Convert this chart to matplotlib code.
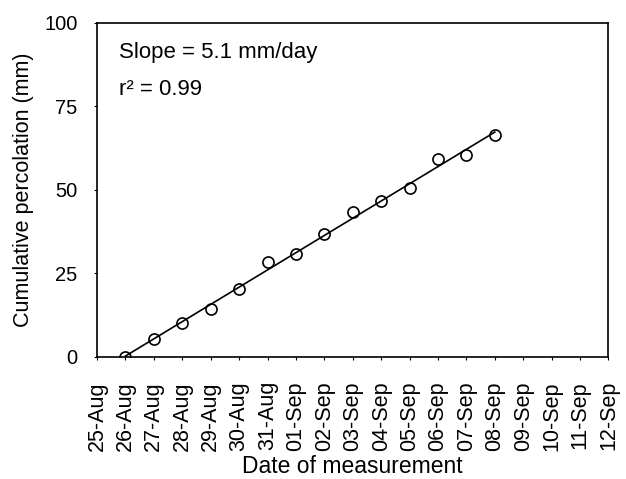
import matplotlib
matplotlib.use("Agg")
import matplotlib.pyplot as plt
import matplotlib.dates as mdates
import numpy as np
from datetime import datetime

plt.rcParams['font.family'] = ['Liberation Sans', 'DejaVu Sans']

# measurements (cumulative percolation, mm)
dates = ["26-Aug", "27-Aug", "28-Aug", "29-Aug", "30-Aug", "31-Aug", "01-Sep",
         "02-Sep", "03-Sep", "04-Sep", "05-Sep", "06-Sep", "07-Sep", "08-Sep"]
perc = [0.0, 5.3, 10.2, 14.2, 20.2, 28.4, 30.7, 36.7, 43.3, 46.6, 50.5, 59.2, 60.4, 66.4]

axis_start = "25-Aug"
axis_end = "12-Sep"
long_ticks = ["31-Aug", "09-Sep"]
yticks = [0, 25, 50, 75, 100]

slope_text = "Slope = 5.1 mm/day"
r2_text = "r\u00b2 = 0.99"


def to_num(s):
    return mdates.date2num(datetime.strptime(s + "-2005", "%d-%b-%Y"))


x = np.array([to_num(d) for d in dates])
y = np.array(perc)

fig = plt.figure(figsize=(6.26, 4.79), dpi=100)
ax = fig.add_axes([0.155, 0.2553, 0.817, 0.6973])

# regression line
k, b = np.polyfit(x - x[0], y, 1)
ax.plot([x[0], x[-1]], [b, k * (x[-1] - x[0]) + b], color='k', lw=1.2, zorder=2)
ax.plot(x, y, 'o', mfc='none', mec='k', mew=1.2, ms=8, zorder=3)

ax.set_xlim(to_num(axis_start), to_num(axis_end))
ax.set_ylim(0, 100)

# every day labelled, short ticks; two longer unlabelled ticks
ax.xaxis.set_major_locator(mdates.DayLocator())
ax.xaxis.set_major_formatter(mdates.DateFormatter("%d-%b"))
ax.set_xticks([to_num(d) for d in long_ticks], minor=True)
ax.tick_params(axis='x', which='major', direction='out', length=2.5, width=0.8,
               pad=15, labelsize=15.5, labelrotation=90)
ax.tick_params(axis='x', which='minor', direction='out', length=5, width=1.0)

ax.set_yticks(yticks)
ax.tick_params(axis='y', direction='out', length=2, width=0.8, pad=12, labelsize=14.5)

for sp in ax.spines.values():
    sp.set_linewidth(1.2)

ax.set_ylabel("Cumulative percolation (mm)", fontsize=15.5, labelpad=7)
ax.set_xlabel("Date of measurement", fontsize=16.5, labelpad=3)

ax.text(0.043, 0.912, slope_text, transform=ax.transAxes, fontsize=16, va='center')
ax.text(0.043, 0.80, r2_text, transform=ax.transAxes, fontsize=16, va='center')

fig.savefig("out.png", dpi=100)
